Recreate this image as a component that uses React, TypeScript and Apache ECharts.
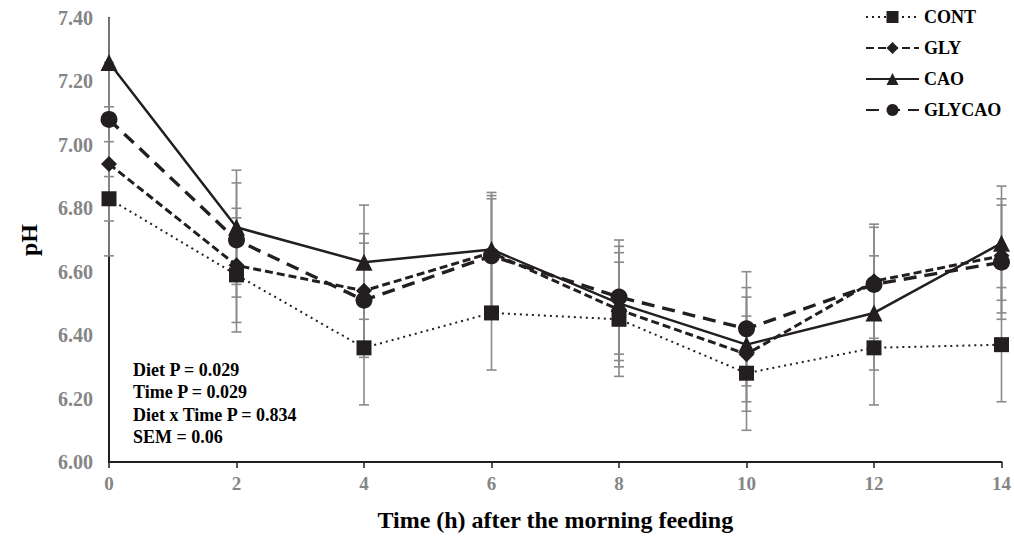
import React, { useEffect, useRef } from "react";
import * as echarts from "echarts";

const HOURS = [0, 2, 4, 6, 8, 10, 12, 14];
const CONT = [6.83, 6.59, 6.36, 6.47, 6.45, 6.28, 6.36, 6.37];
const GLY = [6.94, 6.62, 6.54, 6.66, 6.48, 6.34, 6.57, 6.65];
const CAO = [7.26, 6.74, 6.63, 6.67, 6.5, 6.37, 6.47, 6.69];
const GLYCAO = [7.08, 6.7, 6.51, 6.65, 6.52, 6.42, 6.56, 6.63];
const CONT_ERR = [0.18, 0.18, 0.18, 0.18, 0.18, 0.18, 0.18, 0.18];
const GLY_ERR = [0.18, 0.18, 0.18, 0.18, 0.18, 0.18, 0.18, 0.18];
const CAO_ERR = [0.18, 0.18, 0.18, 0.18, 0.18, 0.18, 0.18, 0.18];
const GLYCAO_ERR = [0.18, 0.18, 0.18, 0.18, 0.18, 0.18, 0.18, 0.18];
const STATS = [
  "Diet P = 0.029",
  "Time P = 0.029",
  "Diet x Time P = 0.834",
  "SEM = 0.06",
];

const Y_MIN = 6.0;
const Y_MAX = 7.4;
const FONT = '"Liberation Serif", "Times New Roman", serif';
const MARK = "#231f20";

export default function App() {
  const ref = useRef<HTMLDivElement>(null);

  useEffect(() => {
    if (!ref.current) return;
    const chart = echarts.init(ref.current, undefined, { renderer: "svg" });

    const groups = [
      { name: "CONT", vals: CONT, err: CONT_ERR, symbol: "rect", size: 15, line: { type: [2, 4], width: 2 } },
      { name: "GLY", vals: GLY, err: GLY_ERR, symbol: "diamond", size: 16, line: { type: [8, 4], width: 3 } },
      { name: "CAO", vals: CAO, err: CAO_ERR, symbol: "triangle", size: 17, line: { type: "solid", width: 2.5 } },
      { name: "GLYCAO", vals: GLYCAO, err: GLYCAO_ERR, symbol: "circle", size: 17, line: { type: [13, 8], width: 3.4 } },
    ];

    const errData: number[][] = [];
    groups.forEach((g) => {
      HOURS.forEach((h, i) => {
        errData.push([h, g.vals[i] - g.err[i], g.vals[i] + g.err[i]]);
      });
    });

    const lineSeries = groups.map((g) => ({
      name: g.name,
      type: "line",
      data: HOURS.map((h, i) => [h, g.vals[i]]),
      symbol: g.symbol,
      symbolSize: g.size,
      showSymbol: true,
      itemStyle: { color: MARK },
      lineStyle: { color: MARK, type: g.line.type, width: g.line.width },
      z: 3,
    }));

    const errSeries = {
      type: "custom",
      name: "err",
      data: errData,
      z: 2,
      silent: true,
      renderItem: (params: any, api: any) => {
        const x = api.value(0);
        const lo = Math.max(api.value(1), Y_MIN);
        const hiRaw = api.value(2);
        const hi = Math.min(hiRaw, Y_MAX);
        const p1 = api.coord([x, lo]);
        const p2 = api.coord([x, hi]);
        const w = 5;
        const style = { stroke: "#8a8a8a", lineWidth: 1.6 };
        const children: any[] = [
          { type: "line", shape: { x1: p1[0], y1: p1[1], x2: p2[0], y2: p2[1] }, style },
          { type: "line", shape: { x1: p1[0] - w, y1: p1[1], x2: p1[0] + w, y2: p1[1] }, style },
        ];
        if (hiRaw <= Y_MAX) {
          children.push({ type: "line", shape: { x1: p2[0] - w, y1: p2[1], x2: p2[0] + w, y2: p2[1] }, style });
        }
        return { type: "group", children };
      },
    };

    chart.setOption({
      animation: false,
      backgroundColor: "#ffffff",
      grid: { left: 109, right: 8, top: 18, bottom: 74, containLabel: false },
      legend: {
        orient: "vertical",
        left: 860,
        top: 3,
        itemWidth: 53,
        itemHeight: 15,
        itemGap: 13,
        data: ["CONT", "GLY", "CAO", "GLYCAO"],
        textStyle: { fontFamily: FONT, fontWeight: "bold", fontSize: 18, color: "#000" },
      },
      xAxis: {
        type: "value",
        min: 0,
        max: 14,
        interval: 2,
        name: "Time (h) after the morning feeding",
        nameLocation: "middle",
        nameGap: 46,
        nameTextStyle: { fontFamily: FONT, fontWeight: "bold", fontSize: 24, color: "#000" },
        axisLine: { show: true, lineStyle: { color: "#231f20", width: 2 } },
        axisTick: { show: true, length: 6, lineStyle: { color: "#231f20", width: 1.5 } },
        axisLabel: { fontFamily: FONT, fontWeight: "bold", fontSize: 19, color: "#858585", margin: 12 },
        splitLine: { show: false },
      },
      yAxis: {
        type: "value",
        min: Y_MIN,
        max: Y_MAX,
        interval: 0.2,
        name: "pH",
        nameLocation: "middle",
        nameGap: 68,
        nameTextStyle: { fontFamily: FONT, fontWeight: "bold", fontSize: 24, color: "#000" },
        axisLine: { show: true, lineStyle: { color: "#231f20", width: 2 } },
        axisTick: { show: false },
        axisLabel: {
          fontFamily: FONT,
          fontWeight: "bold",
          fontSize: 20,
          color: "#858585",
          margin: 16,
          formatter: (v: number) => v.toFixed(2),
        },
        splitLine: { show: false },
      },
      graphic: STATS.map((t, i) => ({
        type: "text",
        x: 133,
        y: 370 + i * 22.4,
        style: {
          text: t,
          fill: "#000",
          font: `bold 18px ${FONT}`,
          verticalAlign: "middle",
          textVerticalAlign: "middle",
        },
      })),
      series: [errSeries, ...lineSeries],
    });

    return () => chart.dispose();
  }, []);

  return <div ref={ref} style={{ width: 1014, height: 537, position: "absolute", left: 0, top: 0 }} />;
}
